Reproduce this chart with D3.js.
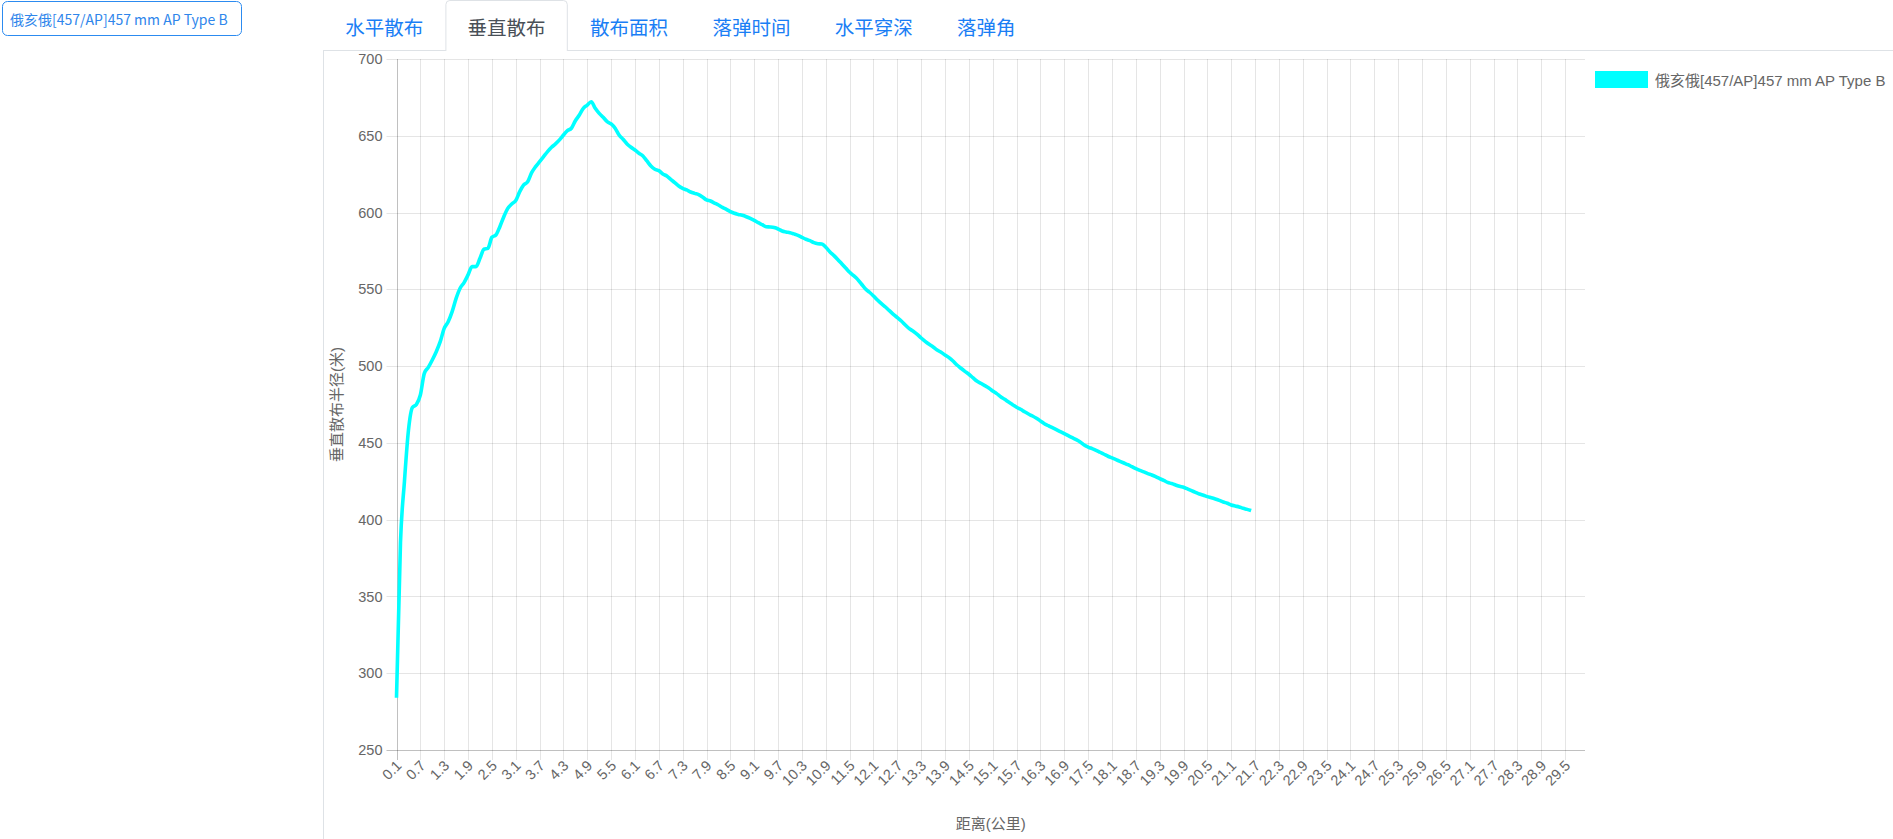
<!DOCTYPE html>
<html>
<head>
<meta charset="utf-8">
<script src="https://cdn.jsdelivr.net/npm/d3@7/dist/d3.min.js"></script>
<style>
  html, body { margin: 0; padding: 0; background: #fff; }
  svg { display: block; }
  .chart-text { font-family: "Liberation Sans", Arial, "Noto Sans CJK SC", sans-serif; }
  .ui-text { font-family: "Noto Sans CJK SC", "Noto Sans", sans-serif; }
</style>
</head>
<body>
<svg id="root" width="1893" height="839"></svg>
<script>
// ---------------- data ----------------
const shellName = "俄亥俄[457/AP]457 mm AP Type B";
const tabs = ["水平散布", "垂直散布", "散布面积", "落弹时间", "水平穿深", "落弹角"];
const activeTab = "垂直散布";
const yTitle = "垂直散布半径(米)";
const xTitle = "距离(公里)";
// category axis: 0.1 km .. 30.0 km
const categories = d3.range(1, 301).map(i => (i / 10).toFixed(1));
const yTicks = [250, 300, 350, 400, 450, 500, 550, 600, 650, 700];
// vertical dispersion radius (m), one value per 0.1 km starting at 0.1 km
const verticalDispersion = [
  284, 385, 425, 458, 473, 475, 481.2, 495.3, 499.2,
  504.0, 509.4, 515.9, 524.6, 528.9, 535.5, 544.1, 550.7, 554.4, 559.4, 564.8,
  564.8, 570.2, 576.1, 576.7, 583.9, 585.4, 590.8, 597.3, 602.7, 605.6,
  607.8, 613.6, 618.0, 620.1, 626.0, 629.9, 633.1, 636.4, 639.7, 642.5,
  644.7, 647.3, 650.5, 653.3, 654.9, 659.8, 663.5, 667.9, 670.0, 672.2,
  667.9, 664.6, 662.0, 659.2, 657.7, 654.9, 650.5, 647.7, 644.7, 642.5,
  640.7, 638.6, 636.8, 633.6, 630.3, 628.2, 627.3, 625.1, 623.8, 621.6,
  619.5, 617.3, 615.8, 614.7, 613.4, 612.5, 611.7, 610.1, 608.2, 607.5,
  606.2, 604.9, 603.4, 602.1, 600.6, 599.5, 598.8, 598.2, 597.3, 596.2,
  594.9, 593.4, 592.1, 590.8, 590.6, 590.2, 589.3, 588.0, 587.4, 586.9,
  586.1, 585.2, 583.9, 582.6, 581.7, 580.4, 579.7, 579.5, 577.4, 574.5,
  572.1, 569.5, 566.7, 563.9, 561.1, 558.9, 556.5, 553.3, 550.2, 548.1,
  545.7, 543.1, 540.7, 538.5, 536.1, 533.7, 531.6, 529.4, 526.8, 524.4,
  522.7, 520.7, 518.3, 516.1, 514.2, 512.5, 510.5, 509.0, 507.2, 505.5,
  503.3, 500.7, 498.6, 496.6, 494.7, 492.5, 490.3, 488.8, 487.3, 485.8,
  483.8, 482.1, 480.1, 478.4, 476.6, 474.9, 473.2, 471.9, 470.3, 468.8,
  467.5, 466.0, 464.3, 462.5, 461.2, 459.9, 458.6, 457.3, 456.0, 454.7,
  453.4, 452.1, 450.6, 448.6, 447.3, 446.3, 445.2, 443.9, 442.6, 441.3,
  440.2, 439.1, 438.0, 436.9, 435.8, 434.5, 433.2, 432.1, 431.1, 430.0,
  429.1, 428.0, 426.7, 425.6, 424.3, 423.5, 422.6, 421.7, 421.1, 420.0,
  418.9, 417.8, 416.7, 415.9, 415.0, 414.3, 413.5, 412.6, 411.5, 410.7,
  409.6, 408.9, 408.3, 407.4, 406.7, 405.9
];
const lineColor = "#00ffff";

// ---------------- layout ----------------
const svg = d3.select("#root");
const plot = { left: 396.5, right: 1585, top: 59, bottom: 750 };
const x = d3.scalePoint().domain(categories).range([plot.left, plot.right]);
const y = d3.scaleLinear().domain([250, 700]).range([plot.bottom, plot.top]);
const gridColor = "rgba(0,0,0,0.1)";
const textColor = "#666";

// ---- top-left shell button ----
svg.append("rect").attr("x", 2.5).attr("y", 1.5).attr("width", 239).attr("height", 34)
  .attr("rx", 5).attr("fill", "#fff").attr("stroke", "#2c8bf0").attr("stroke-width", 1);
svg.append("text").attr("class", "ui-text").attr("x", 10).attr("y", 19)
  .attr("dominant-baseline", "central").attr("font-size", 14).attr("fill", "#2f86eb")
  .text(shellName);

// ---- tabs ----
const tabLeft = 323;
svg.append("line").attr("x1", tabLeft).attr("x2", 1893).attr("y1", 50.5).attr("y2", 50.5)
  .attr("stroke", "#dee2e6");
svg.append("line").attr("x1", tabLeft + 0.5).attr("x2", tabLeft + 0.5).attr("y1", 50.5).attr("y2", 839)
  .attr("stroke", "#dee2e6");
let tx = tabLeft;
tabs.forEach(t => {
  const w = 42.4 + 20 * t.length;
  const isActive = t === activeTab;
  if (isActive) {
    const x0 = tx + 0.5, x1 = tx + w - 0.5, r = 4;
    svg.append("path")
      .attr("d", `M${x0},51 L${x0},${0.5 + r} Q${x0},0.5 ${x0 + r},0.5 L${x1 - r},0.5 Q${x1},0.5 ${x1},${0.5 + r} L${x1},51`)
      .attr("fill", "#fff").attr("stroke", "#dee2e6");
  }
  svg.append("text").attr("class", "ui-text").attr("x", tx + w / 2).attr("y", 26.5)
    .attr("text-anchor", "middle").attr("dominant-baseline", "central")
    .attr("font-size", 19.5).attr("fill", isActive ? "#495057" : "#1a7ef5").text(t);
  tx += w;
});

// ---- gridlines ----
const shownCats = categories.filter((c, i) => i % 6 === 0);
const crisp = v => Math.round(v) + 0.5;
svg.append("g").selectAll("line").data(yTicks).join("line")
  .attr("x1", plot.left - 10).attr("x2", plot.right)
  .attr("y1", d => crisp(y(d))).attr("y2", d => crisp(y(d)))
  .attr("stroke", gridColor);
svg.append("g").selectAll("line").data(shownCats).join("line")
  .attr("x1", d => crisp(x(d))).attr("x2", d => crisp(x(d)))
  .attr("y1", plot.top).attr("y2", plot.bottom + 10)
  .attr("stroke", gridColor);
// axis borders
svg.append("line").attr("x1", crisp(plot.left)).attr("x2", crisp(plot.left))
  .attr("y1", plot.top).attr("y2", plot.bottom + 10).attr("stroke", "rgba(0,0,0,0.16)");
svg.append("line").attr("x1", plot.left - 10).attr("x2", plot.right)
  .attr("y1", crisp(y(250))).attr("y2", crisp(y(250))).attr("stroke", "rgba(0,0,0,0.16)");

// ---- axes labels via d3 axes ----
const yAxis = svg.append("g").attr("class", "chart-text")
  .attr("transform", `translate(${plot.left},0)`)
  .call(d3.axisLeft(y).tickValues(yTicks).tickSize(0).tickPadding(14));
yAxis.select(".domain").remove();
yAxis.selectAll("text").attr("font-size", 14.5).attr("fill", textColor)
  .attr("font-family", "Liberation Sans, Arial, sans-serif");

const xAxis = svg.append("g").attr("class", "chart-text")
  .attr("transform", `translate(0,${plot.bottom})`)
  .call(d3.axisBottom(x).tickValues(shownCats).tickSize(0));
xAxis.select(".domain").remove();
xAxis.selectAll("text")
  .attr("font-size", 14.5).attr("fill", textColor)
  .attr("font-family", "Liberation Sans, Arial, sans-serif")
  .attr("y", null).attr("dy", null)
  .attr("text-anchor", "end").attr("dominant-baseline", "central")
  .attr("transform", "translate(2,13) rotate(-45)");

// ---- axis titles ----
svg.append("text").attr("class", "chart-text")
  .attr("transform", `translate(336.5,${(plot.top + plot.bottom) / 2}) rotate(-90)`)
  .attr("text-anchor", "middle").attr("dominant-baseline", "central")
  .attr("font-size", 15).attr("fill", textColor).text(yTitle);
svg.append("text").attr("class", "chart-text")
  .attr("x", (plot.left + plot.right) / 2).attr("y", 823)
  .attr("text-anchor", "middle").attr("dominant-baseline", "central")
  .attr("font-size", 15).attr("fill", textColor).text(xTitle);

// ---- line ----
const line = d3.line()
  .x((d, i) => x(categories[i]))
  .y(d => y(d))
  .curve(d3.curveMonotoneX);
svg.append("path").datum(verticalDispersion)
  .attr("d", line).attr("fill", "none")
  .attr("stroke", lineColor).attr("stroke-width", 3.6)
  .attr("stroke-linejoin", "round");

// ---- legend ----
svg.append("rect").attr("x", 1596.5).attr("y", 72.5).attr("width", 50).attr("height", 14)
  .attr("fill", lineColor).attr("stroke", lineColor).attr("stroke-width", 3);
svg.append("text").attr("class", "chart-text").attr("x", 1655).attr("y", 80)
  .attr("dominant-baseline", "central").attr("font-size", 15).attr("fill", textColor)
  .text(shellName);
</script>
</body>
</html>
